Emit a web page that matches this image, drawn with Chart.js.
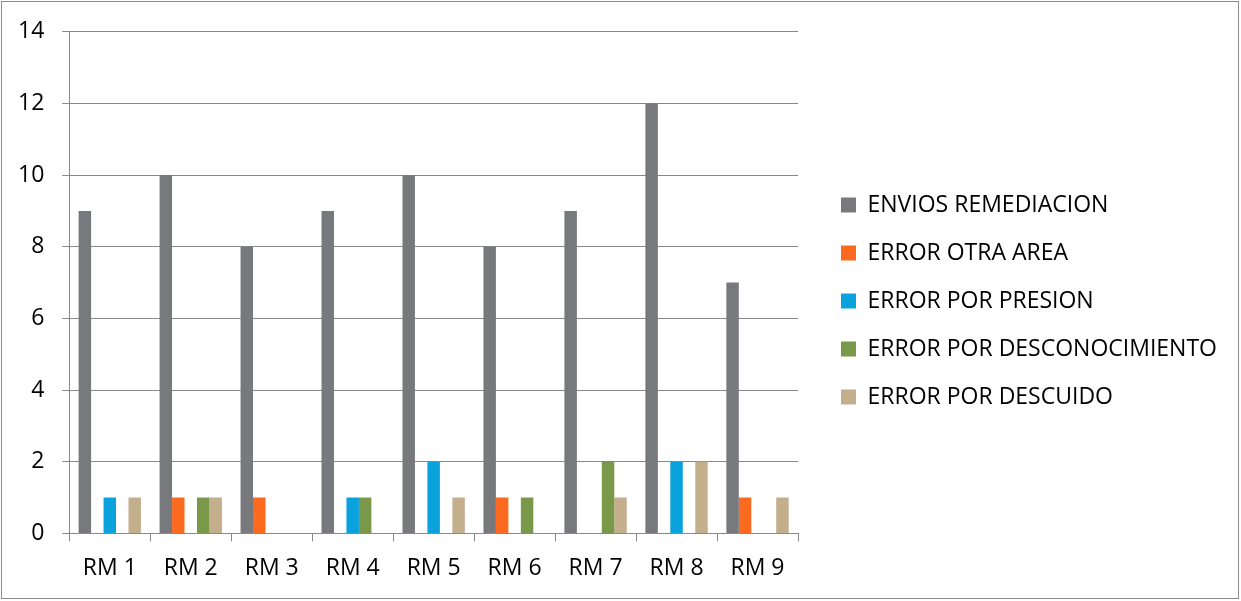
<!DOCTYPE html>
<html>
<head>
<meta charset="utf-8">
<script src="https://cdn.jsdelivr.net/npm/chart.js@4/dist/chart.umd.min.js"></script>
<style>
  html, body { margin: 0; padding: 0; background: #ffffff; }
  #wrap { position: relative; width: 1241px; height: 601px; }
  #frame { position: absolute; left: 1px; top: 1px; width: 1236px; height: 596px; border: 1px solid #8c8c8c; pointer-events: none; }
  canvas { position: absolute; left: 0; top: 0; }
</style>
</head>
<body>
<div id="wrap">
  <canvas id="c" width="1241" height="601"></canvas>
  <div id="frame"></div>
</div>
<script>
const categories = ["RM 1", "RM 2", "RM 3", "RM 4", "RM 5", "RM 6", "RM 7", "RM 8", "RM 9"];
const seriesNames = ["ENVIOS REMEDIACION", "ERROR OTRA AREA", "ERROR POR PRESION", "ERROR POR DESCONOCIMIENTO", "ERROR POR DESCUIDO"];
const enviosRemediacion = [9, 10, 8, 9, 10, 8, 9, 12, 7];
const errorOtraArea = [0, 1, 1, 0, 0, 1, 0, 0, 1];
const errorPorPresion = [1, 0, 0, 1, 2, 0, 0, 2, 0];
const errorPorDesconocimiento = [0, 1, 0, 1, 0, 1, 2, 0, 0];
const errorPorDescuido = [1, 1, 0, 0, 1, 0, 1, 2, 1];
const seriesColors = ["#78797D", "#FB6A1F", "#0AA2DC", "#7A9849", "#C4AF8D"];
const yTicks = { min: 0, max: 14, step: 2 };

const seriesValues = [enviosRemediacion, errorOtraArea, errorPorPresion, errorPorDesconocimiento, errorPorDescuido];
const FONT = "'Open Sans', 'DejaVu Sans', sans-serif";
const GRID = "#898989";

const legendTweak = {
  id: 'legendTweak',
  afterInit(chart) {
    const lg = chart.legend;
    if (!lg) return;
    const origFit = lg.fit.bind(lg);
    lg.fit = function () { origFit(); this.width = 443; };
  },
  afterLayout(chart) {
    const lg = chart.legend;
    if (!lg) return;
    lg.left += 18; lg.right += 18;
    lg.top -= 12; lg.bottom -= 12;
  }
};

new Chart(document.getElementById('c'), {
  type: 'bar',
  data: {
    labels: categories,
    datasets: seriesNames.map((n, i) => ({
      label: n,
      data: seriesValues[i],
      backgroundColor: seriesColors[i],
      borderWidth: 0,
      barPercentage: 1.0,
      categoryPercentage: 0.77
    }))
  },
  options: {
    responsive: false,
    animation: false,
    layout: { padding: { left: 0, top: 31, bottom: 6, right: 0 } },
    plugins: {
      tooltip: { enabled: false },
      legend: {
        position: 'right',
        align: 'center',
        labels: {
          boxWidth: 15,
          boxHeight: 15,
          padding: 25,
          color: '#000000',
          font: { family: FONT, size: 23 }
        }
      }
    },
    scales: {
      x: {
        grid: { display: true, drawOnChartArea: false, drawTicks: true, tickLength: 8, color: GRID, offset: true },
        border: { display: true, color: GRID, width: 1 },
        ticks: { color: '#000000', font: { family: FONT, size: 23 }, padding: 13, maxRotation: 0 }
      },
      y: {
        min: yTicks.min,
        max: yTicks.max,
        grid: { color: GRID, drawTicks: true, tickLength: 7 },
        border: { display: true, color: GRID, width: 1 },
        ticks: { stepSize: yTicks.step, color: '#000000', font: { family: FONT, size: 23 }, padding: 18 }
      }
    }
  },
  plugins: [legendTweak]
});
</script>
</body>
</html>
